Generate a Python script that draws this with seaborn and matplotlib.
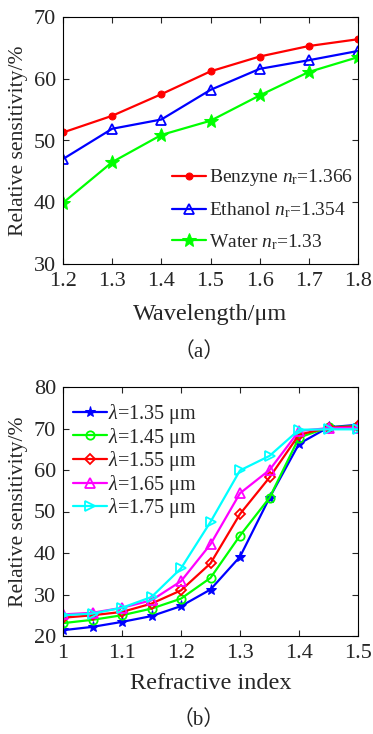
import numpy as np
import pandas as pd
import matplotlib
matplotlib.use('Agg')
import matplotlib.pyplot as plt
import seaborn as sns

# panel (a): sensitivity vs wavelength
wavelength = [1.2, 1.3, 1.4, 1.5, 1.6, 1.7, 1.8]
benzyne = [51.3, 54.0, 57.5, 61.2, 63.6, 65.3, 66.4]
ethanol = [47.0, 51.9, 53.4, 58.2, 61.6, 63.0, 64.5]
water = [39.9, 46.5, 50.9, 53.2, 57.3, 61.1, 63.5]

# panel (b): sensitivity vs refractive index
ref_index = [1.0, 1.05, 1.1, 1.15, 1.2, 1.25, 1.3, 1.35, 1.4, 1.45, 1.5]
lam_135 = [21.4, 22.2, 23.4, 24.8, 27.2, 31.2, 39.1, 53.3, 66.3, 70.3, 70.9]
lam_145 = [23.1, 23.9, 25.0, 26.6, 29.0, 34.0, 44.2, 53.3, 67.8, 70.3, 70.6]
lam_155 = [24.4, 25.0, 25.8, 27.8, 31.0, 37.5, 49.4, 58.2, 68.5, 70.2, 70.5]
lam_165 = [25.2, 25.6, 26.8, 28.6, 33.2, 42.1, 54.4, 60.0, 69.4, 70.1, 70.2]
lam_175 = [25.0, 25.4, 26.8, 29.4, 36.3, 47.5, 59.9, 63.4, 69.7, 69.8, 69.8]

sns.set_style('ticks')
plt.rcParams['font.family'] = ['Liberation Serif', 'DejaVu Serif']
plt.rcParams['mathtext.fontset'] = 'custom'
plt.rcParams['mathtext.rm'] = 'Liberation Serif'
plt.rcParams['mathtext.it'] = 'Liberation Serif:italic'
plt.rcParams['axes.linewidth'] = 0.8

fig = plt.figure(figsize=(3.73, 7.34), dpi=100)
W, H = 373, 734
ax1 = fig.add_axes([63 / W, 1 - 264 / H, 295 / W, 247 / H])
ax2 = fig.add_axes([63 / W, 1 - 636 / H, 295 / W, 249 / H])

series_a = [
    (benzyne, 'red', 'o', dict(markersize=5), r'Benzyne $n_{\mathrm{r}}$=1.366'),
    (ethanol, 'blue', '^', dict(markersize=7, markerfacecolor='none', markeredgewidth=1.3), r'Ethanol $n_{\mathrm{r}}$=1.354'),
    (water, '#00ff00', '*', dict(markersize=10), r'Water $n_{\mathrm{r}}$=1.33'),
]
for vals, col, mk, kw, lab in series_a:
    sns.lineplot(x=wavelength, y=vals, ax=ax1, color=col, marker=mk,
                 markeredgecolor=col, linewidth=1.6, label=lab, **kw)

ax1.set_xlim(1.2, 1.8)
ax1.set_ylim(30, 70)
ax1.set_xticks([1.2, 1.3, 1.4, 1.5, 1.6, 1.7, 1.8])
ax1.set_yticks([30, 40, 50, 60, 70])
ax1.set_xlabel('Wavelength/μm', fontsize=17.5, labelpad=9)
ax1.set_ylabel('Relative sensitivity/%', fontsize=15.6, labelpad=4)
ax1.legend(loc='center left', bbox_to_anchor=(0.37, 0.22), frameon=False,
           fontsize=14, handlelength=1.75, handletextpad=0.15,
           labelspacing=0.62, borderpad=0, borderaxespad=0)

series_b = [
    (lam_135, 'blue', '*', dict(markersize=8), r'$\lambda$=1.35 μm'),
    (lam_145, '#00ff00', 'o', dict(markersize=6, markerfacecolor='none', markeredgewidth=1.3), r'$\lambda$=1.45 μm'),
    (lam_155, 'red', 'D', dict(markersize=5, markerfacecolor='none', markeredgewidth=1.3), r'$\lambda$=1.55 μm'),
    (lam_165, 'magenta', '^', dict(markersize=7, markerfacecolor='none', markeredgewidth=1.3), r'$\lambda$=1.65 μm'),
    (lam_175, 'cyan', '>', dict(markersize=7, markerfacecolor='none', markeredgewidth=1.3), r'$\lambda$=1.75 μm'),
]
for vals, col, mk, kw, lab in series_b:
    sns.lineplot(x=ref_index, y=vals, ax=ax2, color=col, marker=mk,
                 markeredgecolor=col, linewidth=1.6, label=lab, **kw)

ax2.set_xlim(1.0, 1.5)
ax2.set_ylim(20, 80)
ax2.set_xticks([1.0, 1.1, 1.2, 1.3, 1.4, 1.5])
ax2.set_xticklabels(['1', '1.1', '1.2', '1.3', '1.4', '1.5'])
ax2.set_yticks([20, 30, 40, 50, 60, 70, 80])
ax2.set_xlabel('Refractive index', fontsize=17.5, labelpad=7)
ax2.set_ylabel('Relative sensitivity/%', fontsize=15.6, labelpad=4)
ax2.legend(loc='upper left', bbox_to_anchor=(0.034, 0.94), frameon=False,
           fontsize=14.5, handlelength=1.7, handletextpad=0.05,
           labelspacing=-0.02, borderpad=0, borderaxespad=0)

for ax in (ax1, ax2):
    for s in ax.spines.values():
        s.set_visible(True)
        s.set_color('black')
    ax.tick_params(direction='in', top=True, right=True, length=4,
                   width=0.8, labelsize=16)
    ax.tick_params(axis='x', pad=6)
    ax.tick_params(axis='y', pad=5)

fig.text(199 / W, 1 - 352 / H, '（a）', ha='center', va='center', fontsize=15,
         family=['Liberation Serif', 'Noto Sans CJK SC'])
fig.text(199 / W, 1 - 720 / H, '（b）', ha='center', va='center', fontsize=15,
         family=['Liberation Serif', 'Noto Sans CJK SC'])

fig.savefig('out.png', dpi=100)
